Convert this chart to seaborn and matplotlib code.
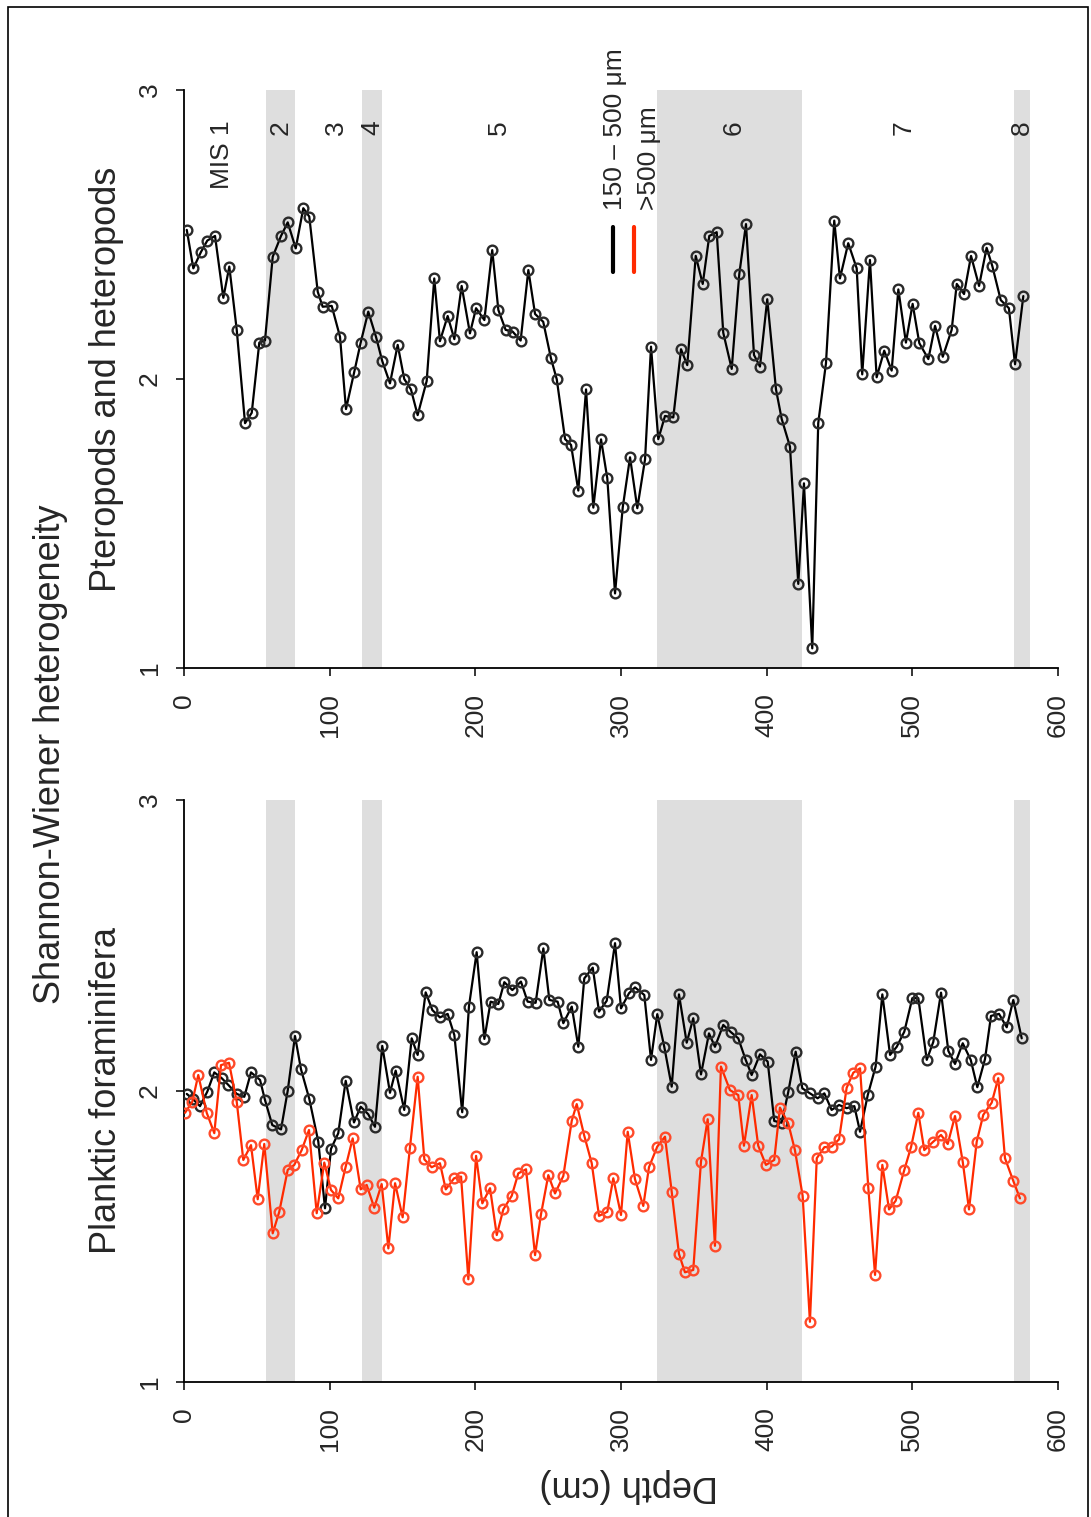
import matplotlib
matplotlib.use('Agg')
import matplotlib.pyplot as plt
import seaborn as sns
import pandas as pd
from matplotlib.patches import Rectangle
from matplotlib.lines import Line2D

# ---------------- data ----------------
pter_depth = [1.9, 6.4, 11.7, 16.0, 21.3, 27.0, 31.1, 36.2, 41.9, 46.5, 51.7, 55.6, 60.9, 66.6, 71.2,
              76.7, 81.9, 86.0, 91.8, 95.2, 101.4, 107.1, 111.2, 116.9, 121.3, 126.5, 131.8, 136.1,
              141.4, 146.7, 151.2, 155.8, 160.4, 166.6, 171.8, 175.7, 181.0, 185.6, 190.6, 196.3,
              200.5, 206.2, 211.6, 215.8, 220.8, 225.6, 231.1, 236.4, 241.0, 246.6, 251.9, 255.9,
              261.6, 265.7, 270.7, 276.0, 281.0, 286.3, 290.6, 295.9, 301.2, 306.2, 311.2, 316.5,
              320.6, 325.6, 330.2, 335.9, 341.2, 345.5, 351.3, 356.1, 360.6, 365.7, 370.2, 376.0,
              381.2, 385.8, 391.3, 395.4, 400.4, 406.4, 410.3, 416.0, 421.7, 425.6, 431.3, 435.4,
              440.7, 446.4, 450.3, 456.0, 461.8, 465.6, 470.9, 475.5, 480.7, 485.8, 490.4, 495.6,
              500.2, 504.8, 511.0, 515.6, 520.9, 527.0, 530.5, 535.5, 540.3, 545.8, 551.0, 554.9,
              560.7, 566.3, 570.5, 576.2]
pter_value = [2.516, 2.383, 2.440, 2.479, 2.495, 2.281, 2.389, 2.170, 1.847, 1.883, 2.126, 2.133,
              2.423, 2.495, 2.542, 2.452, 2.591, 2.562, 2.302, 2.250, 2.253, 2.146, 1.896, 2.025,
              2.126, 2.233, 2.146, 2.062, 1.985, 2.118, 2.000, 1.964, 1.875, 1.993, 2.348, 2.131,
              2.218, 2.138, 2.322, 2.158, 2.245, 2.204, 2.446, 2.239, 2.170, 2.164, 2.133, 2.377,
              2.225, 2.198, 2.072, 1.999, 1.792, 1.772, 1.614, 1.964, 1.555, 1.791, 1.656, 1.258,
              1.556, 1.729, 1.553, 1.722, 2.112, 1.792, 1.872, 1.867, 2.103, 2.048, 2.426, 2.329,
              2.495, 2.508, 2.160, 2.035, 2.363, 2.536, 2.083, 2.043, 2.276, 1.964, 1.862, 1.766,
              1.291, 1.639, 1.068, 1.847, 2.054, 2.548, 2.348, 2.470, 2.383, 2.016, 2.412, 2.006,
              2.098, 2.029, 2.310, 2.126, 2.260, 2.124, 2.069, 2.184, 2.077, 2.170, 2.329, 2.294,
              2.426, 2.322, 2.454, 2.391, 2.273, 2.245, 2.051, 2.287]

foram_small_depth = [1.9, 6.4, 11.0, 16.0, 20.8, 25.9, 30.4, 36.2, 41.4, 46.0, 52.2, 55.6, 60.6,
                     66.6, 71.2, 76.2, 80.3, 86.0, 92.2, 96.8, 100.9, 105.9, 111.0, 116.7, 121.3,
                     126.5, 131.1, 136.1, 141.4, 145.3, 151.2, 156.3, 160.4, 165.9, 170.5, 175.7,
                     181.0, 185.6, 191.0, 195.6, 200.9, 206.2, 210.5, 215.8, 219.9, 225.4, 231.3,
                     235.9, 241.4, 246.7, 250.8, 256.5, 260.4, 266.2, 270.7, 274.8, 280.6, 284.9,
                     290.2, 295.9, 300.0, 305.5, 309.6, 316.0, 320.6, 324.9, 329.7, 334.8, 339.8,
                     345.1, 349.6, 354.9, 360.4, 364.5, 370.2, 375.5, 380.5, 385.6, 389.7, 395.4,
                     400.7, 405.2, 410.3, 414.8, 419.9, 424.5, 429.7, 435.0, 439.6, 444.6, 449.7,
                     454.9, 460.2, 464.1, 469.4, 474.8, 479.4, 484.7, 489.3, 494.5, 500.0, 504.1,
                     509.9, 514.4, 519.7, 524.7, 529.3, 534.6, 540.1, 544.6, 549.9, 554.0, 559.5,
                     564.8, 569.3, 575.1]
foram_small_value = [1.990, 1.971, 1.948, 1.998, 2.064, 2.044, 2.021, 1.990, 1.980, 2.064, 2.038,
                     1.969, 1.883, 1.868, 2.001, 2.189, 2.075, 1.973, 1.826, 1.597, 1.801, 1.855,
                     2.035, 1.892, 1.946, 1.920, 1.877, 2.155, 1.994, 2.070, 1.935, 2.181, 2.124,
                     2.339, 2.278, 2.253, 2.265, 2.192, 1.927, 2.290, 2.477, 2.179, 2.307, 2.299,
                     2.374, 2.347, 2.376, 2.307, 2.303, 2.490, 2.313, 2.307, 2.233, 2.290, 2.152,
                     2.387, 2.424, 2.273, 2.310, 2.508, 2.284, 2.336, 2.356, 2.330, 2.107, 2.264,
                     2.152, 2.015, 2.332, 2.166, 2.250, 2.057, 2.198, 2.152, 2.227, 2.202, 2.181,
                     2.107, 2.055, 2.126, 2.101, 1.897, 1.891, 1.996, 2.135, 2.009, 1.992, 1.975,
                     1.992, 1.935, 1.952, 1.941, 1.948, 1.860, 1.986, 2.084, 2.332, 2.124, 2.152,
                     2.204, 2.319, 2.319, 2.107, 2.169, 2.338, 2.138, 2.093, 2.164, 2.107, 2.013,
                     2.110, 2.258, 2.265, 2.219, 2.313, 2.181]

foram_large_depth = [0.7, 5.7, 9.8, 15.6, 20.8, 25.4, 30.9, 36.2, 40.7, 46.0, 50.6, 55.1, 60.9,
                     65.4, 71.2, 75.7, 80.8, 85.8, 91.1, 96.3, 100.9, 105.9, 111.0, 115.8, 121.3,
                     125.4, 130.6, 135.7, 140.3, 144.9, 150.1, 155.1, 160.4, 165.0, 170.0, 175.7,
                     179.7, 185.4, 190.2, 195.2, 200.5, 204.8, 210.1, 214.7, 219.2, 225.0, 229.5,
                     234.8, 241.0, 245.1, 250.1, 254.7, 260.4, 266.2, 269.6, 274.8, 279.9, 284.9,
                     290.6, 294.7, 300.0, 304.6, 309.6, 315.3, 319.2, 324.9, 330.2, 334.8, 339.8,
                     343.9, 349.6, 354.9, 359.5, 364.5, 368.6, 374.8, 380.5, 384.4, 389.7, 394.2,
                     399.5, 405.2, 409.1, 414.8, 419.4, 424.7, 429.7, 434.4, 439.6, 444.6, 449.7,
                     454.9, 459.5, 464.1, 469.8, 474.4, 479.4, 484.0, 488.6, 494.5, 499.1, 504.1,
                     508.2, 514.4, 519.7, 524.3, 529.3, 534.6, 538.9, 544.2, 548.7, 554.5, 559.0,
                     563.6, 569.3, 573.9]
foram_large_value = [1.925, 1.963, 2.055, 1.925, 1.855, 2.089, 2.097, 1.963, 1.763, 1.814, 1.628,
                     1.818, 1.511, 1.585, 1.729, 1.746, 1.797, 1.866, 1.580, 1.754, 1.660, 1.631,
                     1.740, 1.837, 1.662, 1.677, 1.599, 1.680, 1.459, 1.683, 1.566, 1.805, 2.049,
                     1.765, 1.738, 1.752, 1.662, 1.700, 1.706, 1.353, 1.777, 1.614, 1.666, 1.505,
                     1.593, 1.640, 1.717, 1.731, 1.436, 1.577, 1.711, 1.648, 1.708, 1.898, 1.955,
                     1.846, 1.752, 1.571, 1.585, 1.700, 1.574, 1.860, 1.697, 1.605, 1.738, 1.809,
                     1.843, 1.654, 1.440, 1.377, 1.385, 1.757, 1.903, 1.468, 2.084, 2.003, 1.986,
                     1.812, 1.986, 1.812, 1.746, 1.763, 1.943, 1.889, 1.797, 1.640, 1.207, 1.769,
                     1.807, 1.809, 1.834, 2.011, 2.063, 2.078, 1.666, 1.368, 1.746, 1.593, 1.623,
                     1.729, 1.807, 1.925, 1.797, 1.826, 1.849, 1.818, 1.914, 1.757, 1.593, 1.826,
                     1.918, 1.960, 2.044, 1.769, 1.691, 1.631]

mis_band_start = [56, 122, 324.5, 570]
mis_band_end = [76, 136, 424, 581]
mis_labels = ['MIS 1', '2', '3', '4', '5', '6', '7', '8']
mis_label_depth = [26, 66, 104, 129, 216, 377, 494, 575.5]
depth_ticks = [0, 100, 200, 300, 400, 500, 600]
value_ticks = [1, 2, 3]
series_labels = ['150 \u2013 500 \u03bcm', '>500 \u03bcm']

# ---------------- style ----------------
sns.set_style('white')
plt.rcParams['font.family'] = ['Liberation Sans', 'DejaVu Sans']

BLACK = '#000000'
RED = '#ff2a00'
BAND = '#dedede'
FS_TICK = 19
FS_TITLE = 26

W, H = 1091, 1517
fig = plt.figure(figsize=(W / 100, H / 100), dpi=100)
fig.patch.set_facecolor('white')

ax_top = fig.add_axes([184 / W, 1 - 668 / H, 874 / W, 578 / H])
ax_bot = fig.add_axes([184 / W, 1 - 1382 / H, 874 / W, 582 / H])


def style_axis(ax):
    ax.set_xlim(0, 600)
    ax.set_ylim(1, 3)
    ax.set_facecolor('none')
    for s in ['top', 'right']:
        ax.spines[s].set_visible(False)
    for s in ['left', 'bottom']:
        ax.spines[s].set_linewidth(1.3)
        ax.spines[s].set_color('black')
    ax.set_xticks(depth_ticks)
    ax.set_xticklabels([str(t) for t in depth_ticks], rotation=90, fontsize=FS_TICK)
    ax.set_yticks(value_ticks)
    ax.set_yticklabels([str(t) for t in value_ticks], rotation=90, fontsize=FS_TICK, va='center')
    ax.tick_params(axis='x', direction='out', length=6, width=1.3, pad=12, bottom=True)
    ax.tick_params(axis='y', direction='out', length=6, width=1.3, pad=10, left=True)
    ax.set_xlabel('')
    ax.set_ylabel('')
    for a, b in zip(mis_band_start, mis_band_end):
        ax.axvspan(a, b, color=BAND, lw=0, zorder=0)


def draw_series(ax, d, v, color, edge):
    df = pd.DataFrame({'depth': d, 'value': v})
    sns.lineplot(data=df, x='depth', y='value', ax=ax, estimator=None, sort=False,
                 color=color, linewidth=1.6, marker='o', markersize=7,
                 markerfacecolor='none', markeredgecolor=edge, markeredgewidth=1.7,
                 zorder=3, legend=False)


style_axis(ax_top)
style_axis(ax_bot)

draw_series(ax_top, pter_depth, pter_value, BLACK, '#2a2a2a')
draw_series(ax_bot, foram_small_depth, foram_small_value, BLACK, '#2a2a2a')
draw_series(ax_bot, foram_large_depth, foram_large_value, RED, '#ff4a2a')
for ax in (ax_top, ax_bot):
    ax.set_xlabel('')
    ax.set_ylabel('')

# MIS labels
trans = ax_top.get_xaxis_transform()
for lab, d in zip(mis_labels, mis_label_depth):
    ax_top.text(d, 0.948, lab, transform=trans, rotation=90, ha='center', va='top',
                fontsize=FS_TICK)

# legend (rotated, manual)
tA = ax_top.transAxes
ax_top.add_line(Line2D([0.4905, 0.4905], [0.6856, 0.7635], transform=tA, color=BLACK, lw=3))
ax_top.add_line(Line2D([0.5149, 0.5149], [0.6856, 0.7635], transform=tA, color=RED, lw=3))
ax_top.text(0.4931, 0.7924, series_labels[0], transform=tA, rotation=90, ha='center',
            va='bottom', fontsize=FS_TICK)
ax_top.text(0.532, 0.7924, series_labels[1], transform=tA, rotation=90, ha='center',
            va='bottom', fontsize=FS_TICK)

# titles
fig.text(51 / W, 1 - 754 / H, 'Shannon-Wiener heterogeneity', rotation=90, ha='center',
         va='center', fontsize=FS_TITLE)
fig.text(107 / W, 1 - 379 / H, 'Pteropods and heteropods', rotation=90, ha='center',
         va='center', fontsize=FS_TITLE)
fig.text(107 / W, 1 - 1091 / H, 'Planktic foraminifera', rotation=90, ha='center',
         va='center', fontsize=FS_TITLE)
fig.text(629 / W, 1 - 1485 / H, 'Depth (cm)', rotation=180, ha='center', va='center',
         fontsize=FS_TITLE)

# outer frame
fig.add_artist(Rectangle((8 / W, -0.01), (1088 - 8) / W, (H - 7) / H + 0.01,
                         transform=fig.transFigure, fill=False, lw=1.2, ec='black'))

fig.savefig('out.png', dpi=100)
